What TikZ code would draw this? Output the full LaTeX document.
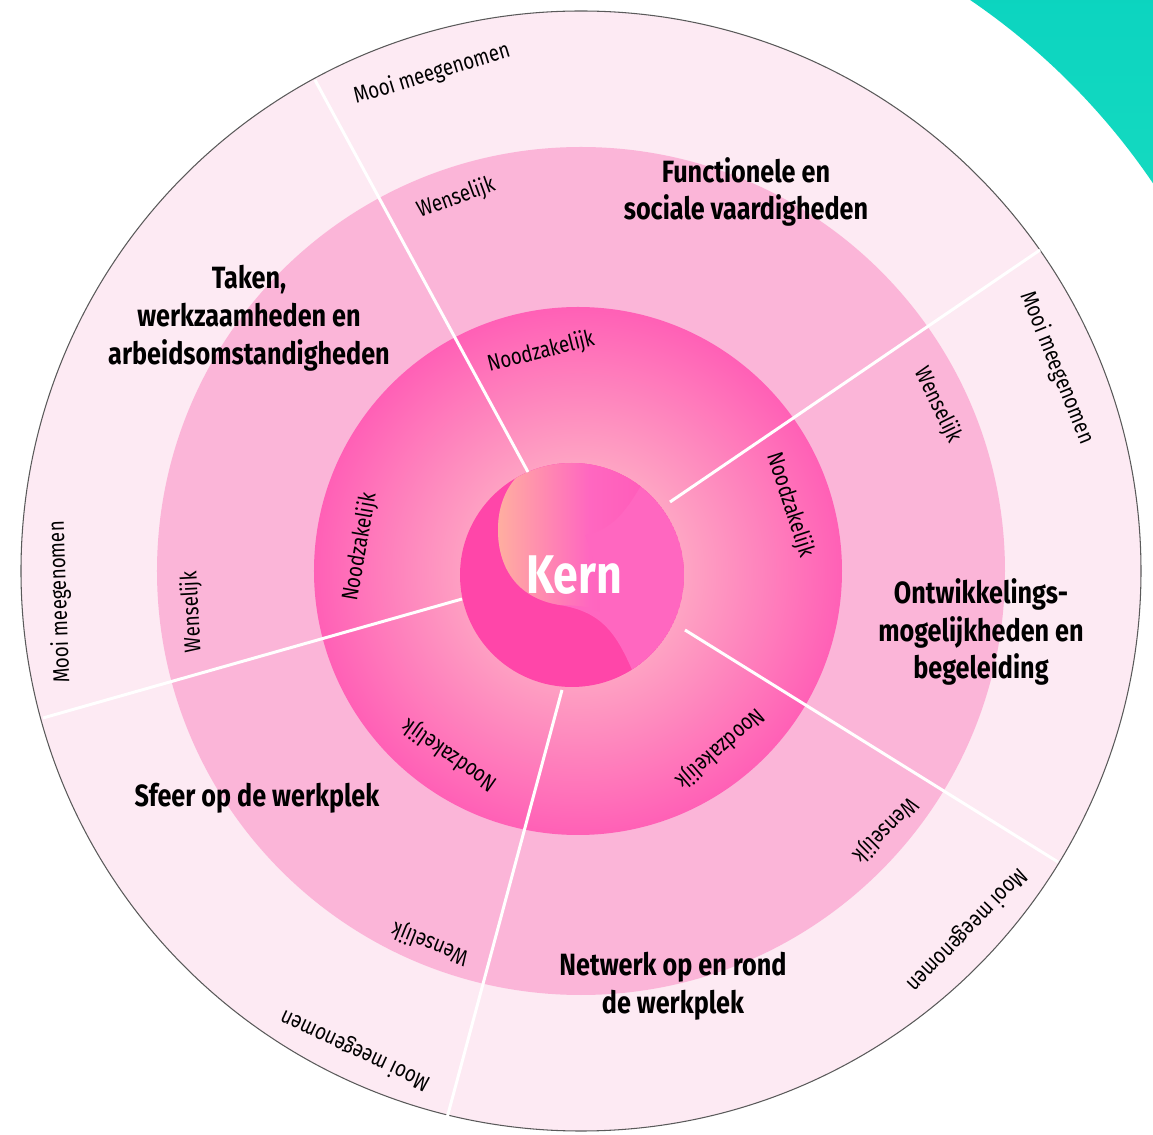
\documentclass[tikz,border=0pt]{standalone}
\usepackage{fontspec}
\setmainfont{Fira Sans}[FakeStretch=0.82]
\definecolor{outerpink}{HTML}{FDEAF3}
\definecolor{midpink}{HTML}{FBB5D8}
\definecolor{innerpeach}{HTML}{FDD2CC}
\definecolor{innerhot}{HTML}{FF60B6}
\definecolor{kerndark}{HTML}{FF46A9}
\definecolor{kernlight}{HTML}{FF67C0}
\definecolor{blobpeach}{HTML}{FFAEA0}
\definecolor{blobpink}{HTML}{FF5BB9}
\definecolor{tealtop}{HTML}{00CDBF}
\definecolor{tealbottom}{HTML}{18DCC0}
\definecolor{rimgrey}{HTML}{5A5A5A}
\pgfdeclarehorizontalshading{blobshade}{100bp}{color(0bp)=(blobpeach); color(25bp)=(blobpeach);
  color(55bp)=(kernlight); color(75bp)=(blobpink); color(100bp)=(blobpink)}
\begin{document}
\begin{tikzpicture}[x=0.02cm, y=0.02cm,
    ringlabel/.style={font=\fontsize{13}{16}\selectfont, inner sep=0pt},
    title/.style={font=\fontsize{17.5}{21.5}\selectfont\bfseries, align=center, inner sep=0pt},
    divider/.style={white, line width=1.7pt}]
  \useasboundingbox (-581,-564) rectangle (572,571);
  % teal band in the corner
  \begin{scope}
    \clip (-581,-564) rectangle (572,571);
    \shade[top color=tealtop, bottom color=tealbottom] (25:691) arc (25:70:691) -- (70:900) arc (70:25:900) -- cycle;
  \end{scope}
  % the three rings
  \fill[outerpink, draw=rimgrey, line width=0.6pt] (0,0) circle (560);
  \fill[midpink] (0,0) circle (424);
  \shade[inner color=innerpeach, outer color=innerhot] (-3,0) circle (264);
  % core
  \begin{scope}
    \clip (-9,-4) circle (112);
    \fill[kerndark] (-9,-4) circle (112);
    \fill[kernlight] (69,-129) -- (52,-101) .. controls (34,-59) and (19,-41) .. (-21,-34)
      .. controls (-66,-27) and (-83,6) .. (-83,41) .. controls (-83,76) and (-66,101) .. (-36,113)
      -- (119,131) -- (119,-149) -- cycle;
    \shade[shading=blobshade] (-83,41) .. controls (-83,76) and (-66,101) .. (-36,113)
      -- (69,131) -- (64,93) .. controls (44,56) and (29,41) .. (4,36)
      .. controls (14,11) and (19,-19) .. (19,-41) .. controls (4,-35) .. (-21,-34)
      .. controls (-66,-27) and (-83,6) .. (-83,41) -- cycle;
  \end{scope}
  \node[font=\fontsize{31}{31}\selectfont\bfseries, text=white] (kern) at (-7,-4) {Kern};
  % dividers
  \coordinate (d1in) at (-53,99);   \coordinate (d1out) at (-266,491);
  \coordinate (d2in) at (89,69);    \coordinate (d2out) at (459,321);
  \coordinate (d3in) at (104,-59);  \coordinate (d3out) at (477,-291);
  \coordinate (d4in) at (-19,-119); \coordinate (d4out) at (-134,-547);
  \coordinate (d5in) at (-119,-28); \coordinate (d5out) at (-538,-147);
  \draw[divider] (d1in) -- (d1out);
  \draw[divider] (d2in) -- (d2out);
  \draw[divider] (d3in) -- (d3out);
  \draw[divider] (d4in) -- (d4out);
  \draw[divider] (d5in) -- (d5out);
  % ring labels
  \node[ringlabel, rotate=14] (nood1) at (-40,219) {Noodzakelijk};
  \node[ringlabel, rotate=-72] (nood2) at (209,66) {Noodzakelijk};
  \node[ringlabel, rotate=-139] (nood3) at (139,-177) {Noodzakelijk};
  \node[ringlabel, rotate=145] (nood4) at (-131,-184) {Noodzakelijk};
  \node[ringlabel, rotate=80] (nood5) at (-221,24) {Noodzakelijk};
  \node[ringlabel, rotate=20] (wens1) at (-125,373) {Wenselijk};
  \node[ringlabel, rotate=-64] (wens2) at (357,166) {Wenselijk};
  \node[ringlabel, rotate=-135] (wens3) at (304,-259) {Wenselijk};
  \node[ringlabel, rotate=158] (wens4) at (-151,-372) {Wenselijk};
  \node[ringlabel, rotate=93] (wens5) at (-389,-41) {Wenselijk};
  \node[ringlabel, rotate=17] (mooi1) at (-149,497) {Mooi meegenomen};
  \node[ringlabel, rotate=-68] (mooi2) at (476,203) {Mooi meegenomen};
  \node[ringlabel, rotate=-134] (mooi3) at (386,-359) {Mooi meegenomen};
  \node[ringlabel, rotate=155] (mooi4) at (-226,-479) {Mooi meegenomen};
  \node[ringlabel, rotate=92] (mooi5) at (-521,-31) {Mooi meegenomen};
  % sector titles
  \node[title] (functie) at (165,379) {Functionele en\\sociale vaardigheden};
  \node[title] (taken) at (-332,253) {Taken,\\werkzaamheden en\\arbeidsomstandigheden};
  \node[title] (ontw) at (400,-61) {Ontwikkelings-\\mogelijkheden en\\begeleiding};
  \node[title] (sfeer) at (-324,-227) {Sfeer op de werkplek};
  \node[title] (netwerk) at (92,-415) {Netwerk op en rond\\de werkplek};
\end{tikzpicture}
\end{document}
